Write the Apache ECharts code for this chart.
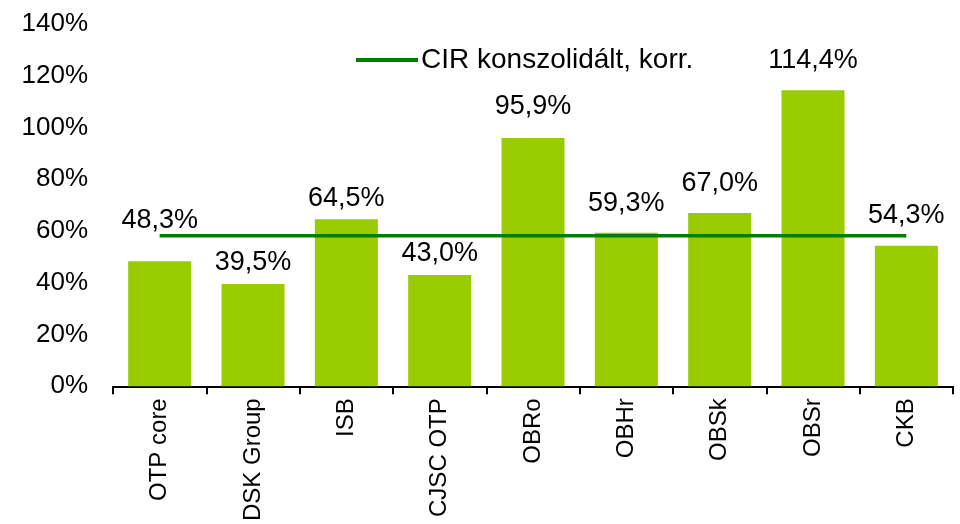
<!DOCTYPE html>
<html>
<head>
<meta charset="utf-8">
<script src="https://cdn.jsdelivr.net/npm/echarts@6/dist/echarts.min.js"></script>
<style>
  html, body { margin: 0; padding: 0; background: #fff; }
  #main { width: 960px; height: 524px; }
</style>
</head>
<body>
<div id="main"></div>
<script>
"use strict";
// chart data
let categories = ['OTP core', 'DSK Group', 'ISB', 'CJSC OTP', 'OBRo', 'OBHr', 'OBSk', 'OBSr', 'CKB'];
let cirValues = [48.3, 39.5, 64.5, 43.0, 95.9, 59.3, 67.0, 114.4, 54.3];
let cirConsolidated = [58.2, 58.2, 58.2, 58.2, 58.2, 58.2, 58.2, 58.2, 58.2];
let yTicks = [0, 20, 40, 60, 80, 100, 120, 140];
let lineName = 'CIR konszolidált, korr.';

// label gap above each bar (px), as placed in the original
let labelGap = [27, 8, 7, 8, 18, 16, 16, 16, 17];

let font = '"Liberation Sans", Arial, sans-serif';
let myChart = echarts.init(document.getElementById('main'));

function pct(v) {
    return v.toFixed(1).replace('.', ',') + '%';
}

let barData = cirValues.map(function (v, i) {
    return { value: v, label: { distance: labelGap[i] } };
});

let option = {
    animation: false,
    textStyle: { fontFamily: font },
    grid: { left: 113, right: 7, top: 24, bottom: 134 },
    legend: {
        data: [lineName],
        left: 351,
        top: 41,
        icon: 'rect',
        itemWidth: 62,
        itemHeight: 4,
        itemGap: 6,
        textStyle: { fontSize: 28, color: '#000', fontFamily: font, padding: [0, 0, 0, -2] }
    },
    xAxis: {
        type: 'category',
        data: categories,
        axisLine: { lineStyle: { color: '#000', width: 2 } },
        axisTick: { show: true, alignWithLabel: false, length: 8, lineStyle: { color: '#000', width: 2 } },
        axisLabel: { rotate: 90, fontSize: 24, color: '#000', margin: 12, fontFamily: font, interval: 0 }
    },
    yAxis: {
        type: 'value',
        min: yTicks[0],
        max: yTicks[yTicks.length - 1],
        interval: 20,
        axisLine: { show: false },
        axisTick: { show: false },
        splitLine: { show: false },
        axisLabel: { fontSize: 26, color: '#000', margin: 25, fontFamily: font, formatter: '{value}%' }
    },
    series: [
        {
            name: 'CIR',
            type: 'bar',
            data: barData,
            barWidth: 63,
            itemStyle: { color: '#99CC00' },
            label: {
                show: true,
                position: 'top',
                fontSize: 27,
                color: '#000',
                fontFamily: font,
                formatter: function (p) { return pct(p.value); }
            }
        },
        {
            name: lineName,
            type: 'line',
            data: cirConsolidated,
            symbol: 'none',
            z: 5,
            lineStyle: { color: '#008000', width: 3.5 },
            itemStyle: { color: '#008000' }
        }
    ]
};
myChart.setOption(option);
</script>
</body>
</html>
